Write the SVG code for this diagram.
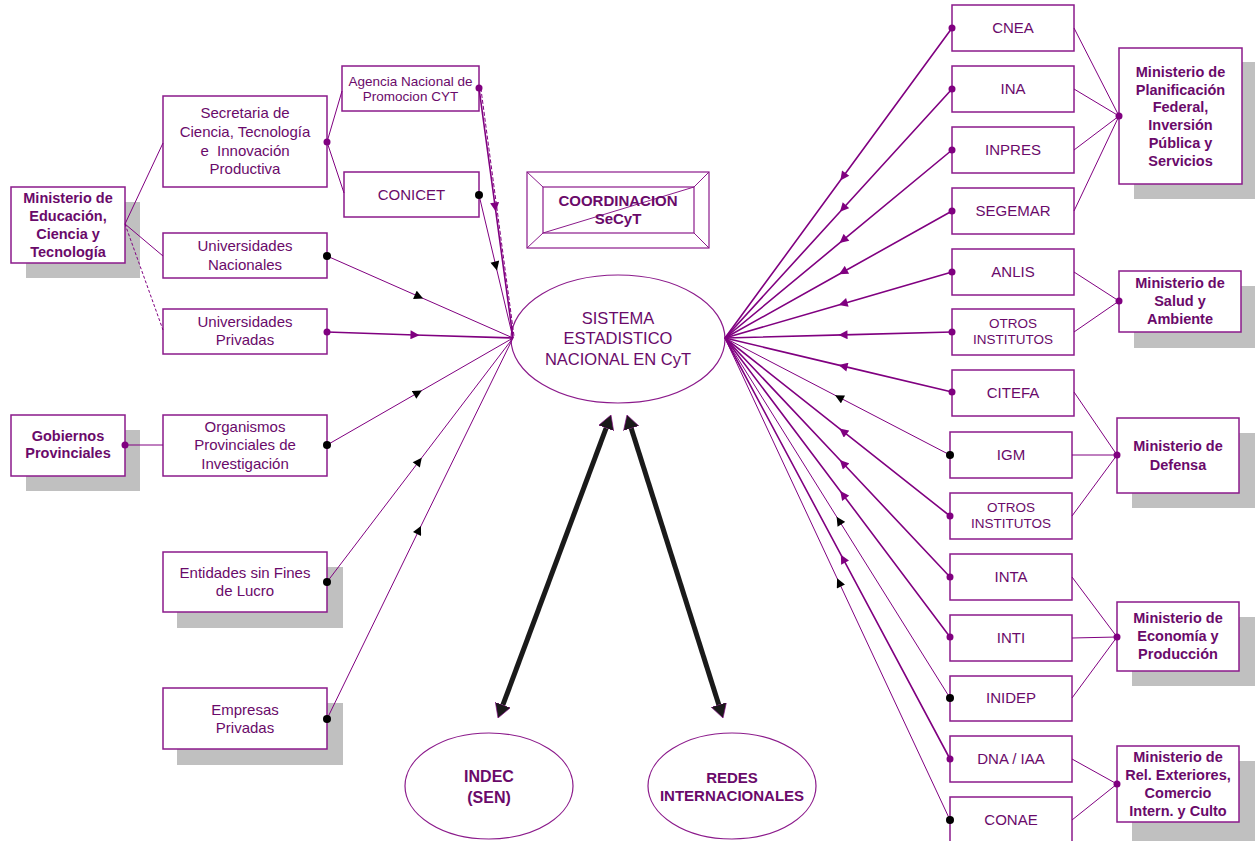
<svg xmlns="http://www.w3.org/2000/svg" width="1255" height="841" viewBox="0 0 1255 841">
<style>
.bg{fill:#fff}
.box{fill:#fff;stroke:#8B1A8B;stroke-width:1.5}
.sh{fill:#C0C0C0}
.t{font-family:"Liberation Sans",Arial,sans-serif;fill:#6A0A6A;text-anchor:middle}
.n15{font-size:15px}
.n13{font-size:13.5px}
.b{font-weight:bold;font-size:14.5px}
.ln{stroke:#800080;fill:none;stroke-width:1}
.lm{stroke:#800080;fill:none;stroke-width:1.6}
.pd{fill:#800080}
.bd{fill:#000}
</style>
<defs>
<marker id="ap" markerUnits="userSpaceOnUse" viewBox="0 0 10 10" refX="5" refY="5" markerWidth="10" markerHeight="9" orient="auto"><path d="M0,0 L10,5 L0,10 z" fill="#800080"/></marker>
<marker id="ab" markerUnits="userSpaceOnUse" viewBox="0 0 10 10" refX="5" refY="5" markerWidth="10" markerHeight="9" orient="auto"><path d="M0,0 L10,5 L0,10 z" fill="#000"/></marker>
<marker id="big" markerUnits="userSpaceOnUse" viewBox="0 0 14 16" refX="0" refY="8" markerWidth="14" markerHeight="16" orient="auto-start-reverse"><path d="M0,0 L14,8 L0,16 z" fill="#1a1a1a" stroke="#800080" stroke-width="0.6"/></marker>
</defs>
<rect class="bg" x="0" y="0" width="1255" height="841"/>

<!-- Left side nodes -->
<g id="min-educacion">
  <rect class="sh" x="26" y="202" width="114" height="76"/>
  <rect class="box" x="11" y="187" width="114" height="76"/>
  <text class="t b" x="68" y="203">Ministerio de</text>
  <text class="t b" x="68" y="221">Educación,</text>
  <text class="t b" x="68" y="239">Ciencia y</text>
  <text class="t b" x="68" y="257">Tecnología</text>
</g>
<g id="secretaria">
  <rect class="box" x="163" y="96" width="164" height="91"/>
  <text class="t n15" x="245" y="118">Secretaria de</text>
  <text class="t n15" x="245" y="137">Ciencia, Tecnología</text>
  <text class="t n15" x="245" y="156" xml:space="preserve">e  Innovación</text>
  <text class="t n15" x="245" y="174">Productiva</text>
</g>
<g id="agencia">
  <rect class="box" x="342" y="66" width="137" height="45"/>
  <text class="t n13" x="410.5" y="86">Agencia Nacional de</text>
  <text class="t n13" x="410.5" y="101">Promocion CYT</text>
</g>
<g id="conicet">
  <rect class="box" x="344" y="172" width="135" height="45"/>
  <text class="t n15" x="411.5" y="200">CONICET</text>
</g>
<g id="univ-nacionales">
  <rect class="box" x="163" y="233" width="164" height="45"/>
  <text class="t n15" x="245" y="251">Universidades</text>
  <text class="t n15" x="245" y="270">Nacionales</text>
</g>
<g id="univ-privadas">
  <rect class="box" x="163" y="309" width="164" height="45"/>
  <text class="t n15" x="245" y="327">Universidades</text>
  <text class="t n15" x="245" y="345">Privadas</text>
</g>
<g id="gobiernos">
  <rect class="sh" x="26" y="430" width="114" height="61"/>
  <rect class="box" x="11" y="415" width="114" height="61"/>
  <text class="t b" x="68" y="441">Gobiernos</text>
  <text class="t b" x="68" y="458">Provinciales</text>
</g>
<g id="organismos">
  <rect class="box" x="163" y="415" width="164" height="61"/>
  <text class="t n15" x="245" y="432">Organismos</text>
  <text class="t n15" x="245" y="450">Provinciales de</text>
  <text class="t n15" x="245" y="468.5">Investigación</text>
</g>
<g id="entidades">
  <rect class="sh" x="177" y="567" width="166" height="61"/>
  <rect class="box" x="163" y="552" width="164" height="60"/>
  <text class="t n15" x="245" y="578">Entidades sin Fines</text>
  <text class="t n15" x="245" y="596">de Lucro</text>
</g>
<g id="empresas">
  <rect class="sh" x="177" y="703" width="166" height="62"/>
  <rect class="box" x="163" y="688" width="164" height="61"/>
  <text class="t n15" x="245" y="715">Empresas</text>
  <text class="t n15" x="245" y="733">Privadas</text>
</g>

<!-- Center -->
<g id="coordinacion">
  <rect x="527" y="172" width="182" height="76" fill="#fff" stroke="#8B1A8B" stroke-width="1.2"/>
  <rect x="543" y="187" width="151" height="46" fill="none" stroke="#8B1A8B" stroke-width="1.2"/>
  <path d="M527,172 L543,187 M709,172 L694,187 M527,248 L543,233 M709,248 L694,233 M543,233 L694,187" stroke="#8B1A8B" stroke-width="1" fill="none"/>
  <text class="t" x="618" y="206" font-size="15" font-weight="bold">COORDINACION</text>
  <text class="t" x="618" y="224" font-size="15" font-weight="bold">SeCyT</text>
</g>
<g id="sistema">
  <ellipse cx="618" cy="339" rx="107" ry="64" fill="#fff" stroke="#8B1A8B" stroke-width="1.2"/>
  <text class="t" x="618" y="324" font-size="16.5">SISTEMA</text>
  <text class="t" x="618" y="344" font-size="16.5">ESTADISTICO</text>
  <text class="t" x="618" y="365" font-size="16.5">NACIONAL EN CyT</text>
</g>
<g id="indec">
  <ellipse cx="489" cy="786" rx="84" ry="53" fill="#fff" stroke="#8B1A8B" stroke-width="1.2"/>
  <text class="t" x="489" y="782" font-size="16" font-weight="bold">INDEC</text>
  <text class="t" x="489" y="803" font-size="16" font-weight="bold">(SEN)</text>
</g>
<g id="redes">
  <ellipse cx="732" cy="786" rx="84" ry="53" fill="#fff" stroke="#8B1A8B" stroke-width="1.2"/>
  <text class="t" x="732" y="783" font-size="15" font-weight="bold">REDES</text>
  <text class="t" x="732" y="801" font-size="15" font-weight="bold">INTERNACIONALES</text>
</g>

<!-- Right institutes -->
<g id="cnea"><rect class="box" x="952" y="5" width="122" height="46"/><text class="t n15" x="1013" y="33">CNEA</text></g>
<g id="ina"><rect class="box" x="952" y="66" width="122" height="46"/><text class="t n15" x="1013" y="94">INA</text></g>
<g id="inpres"><rect class="box" x="952" y="127" width="122" height="46"/><text class="t n15" x="1013" y="155">INPRES</text></g>
<g id="segemar"><rect class="box" x="952" y="188" width="122" height="46"/><text class="t n15" x="1013" y="216">SEGEMAR</text></g>
<g id="anlis"><rect class="box" x="952" y="249" width="122" height="46"/><text class="t n15" x="1013" y="277">ANLIS</text></g>
<g id="otros1"><rect class="box" x="952" y="309" width="122" height="46"/><text class="t n13" x="1013" y="328">OTROS</text><text class="t n13" x="1013" y="344">INSTITUTOS</text></g>
<g id="citefa"><rect class="box" x="952" y="370" width="122" height="46"/><text class="t n15" x="1013" y="398">CITEFA</text></g>
<g id="igm"><rect class="box" x="950" y="432" width="122" height="46"/><text class="t n15" x="1011" y="460">IGM</text></g>
<g id="otros2"><rect class="box" x="950" y="493" width="122" height="46"/><text class="t n13" x="1011" y="512">OTROS</text><text class="t n13" x="1011" y="528">INSTITUTOS</text></g>
<g id="inta"><rect class="box" x="950" y="554" width="122" height="46"/><text class="t n15" x="1011" y="582">INTA</text></g>
<g id="inti"><rect class="box" x="950" y="615" width="122" height="46"/><text class="t n15" x="1011" y="643">INTI</text></g>
<g id="inidep"><rect class="box" x="950" y="676" width="122" height="45"/><text class="t n15" x="1011" y="703">INIDEP</text></g>
<g id="dna"><rect class="box" x="950" y="736" width="122" height="46"/><text class="t n15" x="1011" y="764">DNA / IAA</text></g>
<g id="conae"><rect class="box" x="950" y="797" width="122" height="50"/><text class="t n15" x="1011" y="825">CONAE</text></g>

<!-- Ministers right -->
<g id="min-planificacion">
  <rect class="sh" x="1134" y="62" width="121" height="137"/>
  <rect class="box" x="1119" y="48" width="123" height="136"/>
  <text class="t b" x="1180.5" y="77">Ministerio de</text>
  <text class="t b" x="1180.5" y="95">Planificación</text>
  <text class="t b" x="1180.5" y="112">Federal,</text>
  <text class="t b" x="1180.5" y="130">Inversión</text>
  <text class="t b" x="1180.5" y="148">Pública y</text>
  <text class="t b" x="1180.5" y="166">Servicios</text>
</g>
<g id="min-salud">
  <rect class="sh" x="1134" y="286" width="121" height="62"/>
  <rect class="box" x="1119" y="271" width="122" height="61"/>
  <text class="t b" x="1180" y="288">Ministerio de</text>
  <text class="t b" x="1180" y="306">Salud y</text>
  <text class="t b" x="1180" y="324">Ambiente</text>
</g>
<g id="min-defensa">
  <rect class="sh" x="1132" y="433" width="123" height="75"/>
  <rect class="box" x="1117" y="418" width="122" height="75"/>
  <text class="t b" x="1178" y="451">Ministerio de</text>
  <text class="t b" x="1178" y="470">Defensa</text>
</g>
<g id="min-economia">
  <rect class="sh" x="1132" y="617" width="123" height="69"/>
  <rect class="box" x="1117" y="602" width="122" height="69"/>
  <text class="t b" x="1178" y="623">Ministerio de</text>
  <text class="t b" x="1178" y="641">Economía y</text>
  <text class="t b" x="1178" y="659">Producción</text>
</g>
<g id="min-relext">
  <rect class="sh" x="1132" y="761" width="123" height="80"/>
  <rect class="box" x="1117" y="746" width="122" height="76"/>
  <text class="t b" x="1178" y="762">Ministerio de</text>
  <text class="t b" x="1178" y="780">Rel. Exteriores,</text>
  <text class="t b" x="1178" y="798">Comercio</text>
  <text class="t b" x="1178" y="816">Intern. y Culto</text>
</g>

<g id="connectors">
  <line class="ln" x1="125" y1="224" x2="163" y2="143"/>
  <line class="ln" x1="125" y1="224" x2="163" y2="256"/>
  <line class="ln" x1="125" y1="224" x2="163" y2="330" stroke-dasharray="3,2"/>
  <line class="ln" x1="327" y1="142" x2="342" y2="91"/>
  <line class="ln" x1="327" y1="142" x2="344" y2="193"/>
  <line class="ln" x1="125" y1="445" x2="163" y2="445"/>

  <polyline class="lm" points="479,88 495.2,207 513,338" marker-mid="url(#ap)"/>
  <line class="ln" x1="480.8" y1="88" x2="514" y2="336" stroke-dasharray="4,2"/>
  <polyline class="ln" points="479,195 495.9,266 513,338" marker-mid="url(#ab)"/>
  <polyline class="ln" points="327,256 419,296.6 513,338" marker-mid="url(#ab)"/>
  <polyline class="lm" points="327,332 415,335 513,338" marker-mid="url(#ap)"/>
  <polyline class="ln" points="327,445 418,392.7 513,338" marker-mid="url(#ab)"/>
  <polyline class="ln" points="327,582 419,461.3 513,338" marker-mid="url(#ab)"/>
  <polyline class="ln" points="327,719 419,530 513,338" marker-mid="url(#ab)"/>

  <polyline class="lm" points="952,28 843,176.8 725,338" marker-mid="url(#ap)"/>
  <polyline class="lm" points="952,89 843,208.5 725,338" marker-mid="url(#ap)"/>
  <polyline class="lm" points="952,150 843,240.2 725,338" marker-mid="url(#ap)"/>
  <polyline class="lm" points="952,211 843,272 725,338" marker-mid="url(#ap)"/>
  <polyline class="lm" points="952,272 843,303.7 725,338" marker-mid="url(#ap)"/>
  <polyline class="lm" points="952,332 843,334.9 725,338" stroke-width="2" marker-mid="url(#ap)"/>
  <polyline class="lm" points="952,392 843,366.1 725,338" stroke-width="2" marker-mid="url(#ap)"/>
  <polyline class="ln" points="950,455 839,397.3 725,338" marker-mid="url(#ab)"/>
  <polyline class="lm" points="950,516 843,431.3 725,338" marker-mid="url(#ap)"/>
  <polyline class="lm" points="950,577 843,463.2 725,338" marker-mid="url(#ap)"/>
  <polyline class="lm" points="950,637 843,494.7 725,338" marker-mid="url(#ap)"/>
  <polyline class="ln" points="950,698 839,520.5 725,338" marker-mid="url(#ab)"/>
  <polyline class="lm" points="950,759 843,558.6 725,338" marker-mid="url(#ap)"/>
  <polyline class="ln" points="950,820 839,582.4 725,338" marker-mid="url(#ab)"/>

  <line class="ln" x1="1074" y1="28" x2="1119" y2="116"/>
  <line class="ln" x1="1074" y1="89" x2="1119" y2="116"/>
  <line class="ln" x1="1074" y1="150" x2="1119" y2="116"/>
  <line class="ln" x1="1074" y1="211" x2="1119" y2="116"/>
  <line class="ln" x1="1074" y1="272" x2="1119" y2="301"/>
  <line class="ln" x1="1074" y1="332" x2="1119" y2="301"/>
  <line class="ln" x1="1074" y1="392" x2="1117" y2="455"/>
  <line class="ln" x1="1072" y1="455" x2="1117" y2="455"/>
  <line class="ln" x1="1072" y1="516" x2="1117" y2="455"/>
  <line class="ln" x1="1072" y1="577" x2="1117" y2="637"/>
  <line class="ln" x1="1072" y1="638" x2="1117" y2="637"/>
  <line class="ln" x1="1072" y1="698" x2="1117" y2="637"/>
  <line class="ln" x1="1072" y1="759" x2="1117" y2="784"/>
  <line class="ln" x1="1072" y1="820" x2="1117" y2="784"/>

  <line x1="606.1" y1="428.1" x2="502.9" y2="704.9" stroke="#1a1a1a" stroke-width="5" marker-start="url(#big)" marker-end="url(#big)"/>
  <line x1="631.2" y1="428.3" x2="718.8" y2="704.7" stroke="#1a1a1a" stroke-width="5" marker-start="url(#big)" marker-end="url(#big)"/>

  <circle class="pd" cx="125" cy="445" r="3.5"/>
  <circle class="pd" cx="327" cy="142" r="3.5"/>
  <circle class="pd" cx="479" cy="88" r="3.5"/>
  <circle class="bd" cx="479" cy="195" r="4"/>
  <circle class="bd" cx="327" cy="256" r="4"/>
  <circle class="pd" cx="327" cy="332" r="3.5"/>
  <circle class="bd" cx="327" cy="445" r="4"/>
  <circle class="bd" cx="327" cy="582" r="4"/>
  <circle class="bd" cx="327" cy="719" r="4"/>
  <circle class="pd" cx="952" cy="28" r="3.5"/>
  <circle class="pd" cx="952" cy="89" r="3.5"/>
  <circle class="pd" cx="952" cy="150" r="3.5"/>
  <circle class="pd" cx="952" cy="211" r="3.5"/>
  <circle class="pd" cx="952" cy="272" r="3.5"/>
  <circle class="pd" cx="952" cy="332" r="3.5"/>
  <circle class="pd" cx="952" cy="392" r="3.5"/>
  <circle class="bd" cx="950" cy="455" r="4"/>
  <circle class="pd" cx="950" cy="516" r="3.5"/>
  <circle class="pd" cx="950" cy="577" r="3.5"/>
  <circle class="pd" cx="950" cy="637" r="3.5"/>
  <circle class="bd" cx="950" cy="698" r="4"/>
  <circle class="pd" cx="950" cy="759" r="3.5"/>
  <circle class="bd" cx="950" cy="820" r="4"/>
  <circle class="pd" cx="1119" cy="116" r="3.5"/>
  <circle class="pd" cx="1119" cy="301" r="3.5"/>
  <circle class="pd" cx="1117" cy="455" r="3.5"/>
  <circle class="pd" cx="1117" cy="637" r="3.5"/>
  <circle class="pd" cx="1117" cy="784" r="3.5"/>
</g>
</svg>
